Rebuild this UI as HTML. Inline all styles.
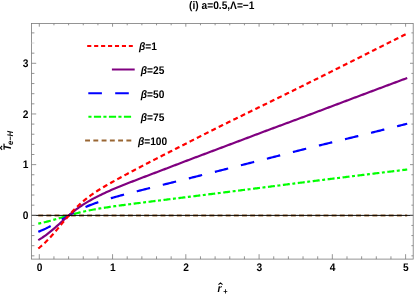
<!DOCTYPE html>
<html><head><meta charset="utf-8"><style>
html,body{margin:0;padding:0;background:#fff;}
body{width:415px;height:294px;overflow:hidden;}
svg{display:block;}
text{font-family:"Liberation Sans",sans-serif;font-weight:bold;fill:#000;text-rendering:geometricPrecision;}
svg{filter:opacity(1);will-change:transform;}
</style></head><body>
<svg width="415" height="294" viewBox="0 0 415 294">
<rect width="415" height="294" fill="#fff"/>

<g fill="none" stroke-linecap="butt" stroke-linejoin="round">
<path d="M38.27,215.45 L39.51,215.45 L40.74,215.45 L41.98,215.45 L43.21,215.45 L44.44,215.45 L45.68,215.45 L46.91,215.45 L48.15,215.45 L49.38,215.45 L50.61,215.45 L51.85,215.45 L53.08,215.45 L54.32,215.45 L55.55,215.45 L56.78,215.45 L58.02,215.45 L59.25,215.45 L60.48,215.45 L61.72,215.45 L62.95,215.45 L64.19,215.45 L65.42,215.45 L66.65,215.45 L67.89,215.45 L69.12,215.45 L70.36,215.45 L71.59,215.45 L72.82,215.45 L74.06,215.45 L75.29,215.45 L76.53,215.45 L77.76,215.45 L78.99,215.45 L80.23,215.45 L81.46,215.45 L82.69,215.45 L83.93,215.45 L85.16,215.45 L86.40,215.45 L87.63,215.45 L88.86,215.45 L90.10,215.45 L91.33,215.45 L92.57,215.45 L93.80,215.45 L95.03,215.45 L96.27,215.45 L97.50,215.45 L98.74,215.45 L99.97,215.45 L101.20,215.45 L102.44,215.45 L103.67,215.45 L104.91,215.45 L106.14,215.45 L107.37,215.45 L108.61,215.45 L109.84,215.45 L111.07,215.45 L112.31,215.45 L113.54,215.45 L114.78,215.45 L116.01,215.45 L117.24,215.45 L118.48,215.45 L119.71,215.45 L120.95,215.45 L122.18,215.45 L123.41,215.45 L124.65,215.45 L125.88,215.45 L127.12,215.45 L128.35,215.45 L129.58,215.45 L130.82,215.45 L132.05,215.45 L133.28,215.45 L134.52,215.45 L135.75,215.45 L136.99,215.45 L138.22,215.45 L139.45,215.45 L140.69,215.45 L141.92,215.45 L143.16,215.45 L144.39,215.45 L145.62,215.45 L146.86,215.45 L148.09,215.45 L149.33,215.45 L150.56,215.45 L151.79,215.45 L153.03,215.45 L154.26,215.45 L155.50,215.45 L156.73,215.45 L157.96,215.45 L159.20,215.45 L160.43,215.45 L161.66,215.45 L162.90,215.45 L164.13,215.45 L165.37,215.45 L166.60,215.45 L167.83,215.45 L169.07,215.45 L170.30,215.45 L171.54,215.45 L172.77,215.45 L174.00,215.45 L175.24,215.45 L176.47,215.45 L177.71,215.45 L178.94,215.45 L180.17,215.45 L181.41,215.45 L182.64,215.45 L183.88,215.45 L185.11,215.45 L186.34,215.45 L187.58,215.45 L188.81,215.45 L190.04,215.45 L191.28,215.45 L192.51,215.45 L193.75,215.45 L194.98,215.45 L196.21,215.45 L197.45,215.45 L198.68,215.45 L199.92,215.45 L201.15,215.45 L202.38,215.45 L203.62,215.45 L204.85,215.45 L206.09,215.45 L207.32,215.45 L208.55,215.45 L209.79,215.45 L211.02,215.45 L212.25,215.45 L213.49,215.45 L214.72,215.45 L215.96,215.45 L217.19,215.45 L218.42,215.45 L219.66,215.45 L220.89,215.45 L222.13,215.45 L223.36,215.45 L224.59,215.45 L225.83,215.45 L227.06,215.45 L228.30,215.45 L229.53,215.45 L230.76,215.45 L232.00,215.45 L233.23,215.45 L234.47,215.45 L235.70,215.45 L236.93,215.45 L238.17,215.45 L239.40,215.45 L240.63,215.45 L241.87,215.45 L243.10,215.45 L244.34,215.45 L245.57,215.45 L246.80,215.45 L248.04,215.45 L249.27,215.45 L250.51,215.45 L251.74,215.45 L252.97,215.45 L254.21,215.45 L255.44,215.45 L256.68,215.45 L257.91,215.45 L259.14,215.45 L260.38,215.45 L261.61,215.45 L262.84,215.45 L264.08,215.45 L265.31,215.45 L266.55,215.45 L267.78,215.45 L269.01,215.45 L270.25,215.45 L271.48,215.45 L272.72,215.45 L273.95,215.45 L275.18,215.45 L276.42,215.45 L277.65,215.45 L278.89,215.45 L280.12,215.45 L281.35,215.45 L282.59,215.45 L283.82,215.45 L285.06,215.45 L286.29,215.45 L287.52,215.45 L288.76,215.45 L289.99,215.45 L291.22,215.45 L292.46,215.45 L293.69,215.45 L294.93,215.45 L296.16,215.45 L297.39,215.45 L298.63,215.45 L299.86,215.45 L301.10,215.45 L302.33,215.45 L303.56,215.45 L304.80,215.45 L306.03,215.45 L307.27,215.45 L308.50,215.45 L309.73,215.45 L310.97,215.45 L312.20,215.45 L313.43,215.45 L314.67,215.45 L315.90,215.45 L317.14,215.45 L318.37,215.45 L319.60,215.45 L320.84,215.45 L322.07,215.45 L323.31,215.45 L324.54,215.45 L325.77,215.45 L327.01,215.45 L328.24,215.45 L329.48,215.45 L330.71,215.45 L331.94,215.45 L333.18,215.45 L334.41,215.45 L335.65,215.45 L336.88,215.45 L338.11,215.45 L339.35,215.45 L340.58,215.45 L341.81,215.45 L343.05,215.45 L344.28,215.45 L345.52,215.45 L346.75,215.45 L347.98,215.45 L349.22,215.45 L350.45,215.45 L351.69,215.45 L352.92,215.45 L354.15,215.45 L355.39,215.45 L356.62,215.45 L357.86,215.45 L359.09,215.45 L360.32,215.45 L361.56,215.45 L362.79,215.45 L364.03,215.45 L365.26,215.45 L366.49,215.45 L367.73,215.45 L368.96,215.45 L370.19,215.45 L371.43,215.45 L372.66,215.45 L373.90,215.45 L375.13,215.45 L376.36,215.45 L377.60,215.45 L378.83,215.45 L380.07,215.45 L381.30,215.45 L382.53,215.45 L383.77,215.45 L385.00,215.45 L386.24,215.45 L387.47,215.45 L388.70,215.45 L389.94,215.45 L391.17,215.45 L392.40,215.45 L393.64,215.45 L394.87,215.45 L396.11,215.45 L397.34,215.45 L398.57,215.45 L399.81,215.45 L401.04,215.45 L402.28,215.45 L403.51,215.45 L404.74,215.45 L405.98,215.45 L407.21,215.45" stroke="#996633" stroke-width="1.9" stroke-dasharray="4.9 3.25"/>
<path d="M38.27,223.57 L39.51,223.32 L40.74,223.07 L41.98,222.81 L43.21,222.54 L44.44,222.25 L45.68,221.96 L46.91,221.66 L48.15,221.34 L49.38,221.02 L50.61,220.69 L51.85,220.35 L53.08,220.00 L54.32,219.65 L55.55,219.29 L56.78,218.93 L58.02,218.56 L59.25,218.19 L60.48,217.82 L61.72,217.45 L62.95,217.08 L64.19,216.71 L65.42,216.34 L66.65,215.98 L67.89,215.62 L69.12,215.26 L70.36,214.91 L71.59,214.57 L72.82,214.23 L74.06,213.90 L75.29,213.57 L76.53,213.26 L77.76,212.95 L78.99,212.64 L80.23,212.35 L81.46,212.06 L82.69,211.77 L83.93,211.50 L85.16,211.23 L86.40,210.97 L87.63,210.71 L88.86,210.46 L90.10,210.22 L91.33,209.98 L92.57,209.75 L93.80,209.52 L95.03,209.30 L96.27,209.08 L97.50,208.87 L98.74,208.66 L99.97,208.45 L101.20,208.25 L102.44,208.05 L103.67,207.85 L104.91,207.66 L106.14,207.47 L107.37,207.29 L108.61,207.10 L109.84,206.92 L111.07,206.74 L112.31,206.56 L113.54,206.39 L114.78,206.21 L116.01,206.04 L117.24,205.87 L118.48,205.70 L119.71,205.53 L120.95,205.37 L122.18,205.20 L123.41,205.04 L124.65,204.87 L125.88,204.71 L127.12,204.55 L128.35,204.39 L129.58,204.23 L130.82,204.07 L132.05,203.91 L133.28,203.75 L134.52,203.59 L135.75,203.44 L136.99,203.28 L138.22,203.12 L139.45,202.97 L140.69,202.81 L141.92,202.66 L143.16,202.50 L144.39,202.35 L145.62,202.19 L146.86,202.04 L148.09,201.88 L149.33,201.73 L150.56,201.58 L151.79,201.42 L153.03,201.27 L154.26,201.12 L155.50,200.96 L156.73,200.81 L157.96,200.66 L159.20,200.50 L160.43,200.35 L161.66,200.20 L162.90,200.05 L164.13,199.89 L165.37,199.74 L166.60,199.59 L167.83,199.43 L169.07,199.28 L170.30,199.13 L171.54,198.98 L172.77,198.82 L174.00,198.67 L175.24,198.52 L176.47,198.36 L177.71,198.21 L178.94,198.06 L180.17,197.90 L181.41,197.75 L182.64,197.60 L183.88,197.45 L185.11,197.29 L186.34,197.14 L187.58,196.99 L188.81,196.83 L190.04,196.68 L191.28,196.53 L192.51,196.37 L193.75,196.22 L194.98,196.06 L196.21,195.91 L197.45,195.76 L198.68,195.60 L199.92,195.45 L201.15,195.29 L202.38,195.14 L203.62,194.99 L204.85,194.83 L206.09,194.68 L207.32,194.52 L208.55,194.37 L209.79,194.21 L211.02,194.06 L212.25,193.91 L213.49,193.75 L214.72,193.60 L215.96,193.44 L217.19,193.29 L218.42,193.13 L219.66,192.98 L220.89,192.82 L222.13,192.67 L223.36,192.51 L224.59,192.36 L225.83,192.20 L227.06,192.04 L228.30,191.89 L229.53,191.73 L230.76,191.58 L232.00,191.42 L233.23,191.27 L234.47,191.11 L235.70,190.95 L236.93,190.80 L238.17,190.64 L239.40,190.49 L240.63,190.33 L241.87,190.17 L243.10,190.02 L244.34,189.86 L245.57,189.71 L246.80,189.55 L248.04,189.39 L249.27,189.24 L250.51,189.08 L251.74,188.92 L252.97,188.77 L254.21,188.61 L255.44,188.45 L256.68,188.30 L257.91,188.14 L259.14,187.98 L260.38,187.83 L261.61,187.67 L262.84,187.51 L264.08,187.36 L265.31,187.20 L266.55,187.04 L267.78,186.88 L269.01,186.73 L270.25,186.57 L271.48,186.41 L272.72,186.25 L273.95,186.10 L275.18,185.94 L276.42,185.78 L277.65,185.62 L278.89,185.47 L280.12,185.31 L281.35,185.15 L282.59,184.99 L283.82,184.84 L285.06,184.68 L286.29,184.52 L287.52,184.36 L288.76,184.20 L289.99,184.05 L291.22,183.89 L292.46,183.73 L293.69,183.57 L294.93,183.41 L296.16,183.26 L297.39,183.10 L298.63,182.94 L299.86,182.78 L301.10,182.63 L302.33,182.47 L303.56,182.31 L304.80,182.15 L306.03,182.00 L307.27,181.84 L308.50,181.68 L309.73,181.53 L310.97,181.37 L312.20,181.22 L313.43,181.06 L314.67,180.91 L315.90,180.75 L317.14,180.60 L318.37,180.44 L319.60,180.29 L320.84,180.13 L322.07,179.98 L323.31,179.82 L324.54,179.67 L325.77,179.52 L327.01,179.36 L328.24,179.21 L329.48,179.05 L330.71,178.90 L331.94,178.75 L333.18,178.59 L334.41,178.44 L335.65,178.29 L336.88,178.14 L338.11,177.98 L339.35,177.83 L340.58,177.68 L341.81,177.52 L343.05,177.37 L344.28,177.22 L345.52,177.07 L346.75,176.92 L347.98,176.76 L349.22,176.61 L350.45,176.46 L351.69,176.31 L352.92,176.16 L354.15,176.00 L355.39,175.85 L356.62,175.70 L357.86,175.55 L359.09,175.40 L360.32,175.25 L361.56,175.10 L362.79,174.95 L364.03,174.79 L365.26,174.64 L366.49,174.49 L367.73,174.34 L368.96,174.19 L370.19,174.04 L371.43,173.89 L372.66,173.74 L373.90,173.59 L375.13,173.44 L376.36,173.28 L377.60,173.13 L378.83,172.98 L380.07,172.83 L381.30,172.68 L382.53,172.53 L383.77,172.38 L385.00,172.23 L386.24,172.08 L387.47,171.93 L388.70,171.78 L389.94,171.62 L391.17,171.47 L392.40,171.32 L393.64,171.17 L394.87,171.02 L396.11,170.87 L397.34,170.72 L398.57,170.57 L399.81,170.41 L401.04,170.26 L402.28,170.11 L403.51,169.96 L404.74,169.81 L405.98,169.66 L407.21,169.51" stroke="#00ff00" stroke-width="2.2" stroke-dasharray="3.0 2.6 7.2 2.7 3.0 2.6 7.2 2.7 3.0 2.6 7.2 2.7 3.0 2.6 7.2 2.7 2.95 2.55 7.0 2.54 2.95 2.55 7.0 2.54 2.95 2.55 7.0 2.54 2.95 2.55 7.0 2.54 2.95 2.55 7.0 2.54 2.95 2.55 7.0 2.54 2.95 2.55 7.0 2.54 2.95 2.55 7.0 2.54 2.95 2.55 7.0 2.54 2.95 2.55 7.0 2.54 2.95 2.55 7.0 2.54 2.95 2.55 7.0 2.54 2.95 2.55 7.0 2.54 2.95 2.55 7.0 2.54 2.95 2.55 7.0 2.54 2.95 2.55 7.0 2.54 2.95 2.55 7.0 2.54 2.95 2.55 7.0 2.54 2.95 2.55 7.0 2.54 2.95 2.55 7.0 2.54 2.95 2.55 7.0 2.54 2.95 2.55 7.0 2.54 2.95 2.55 7.0 2.54 2.95 2.55 7.0 2.54"/>
<path d="M38.27,231.83 L39.51,231.35 L40.74,230.85 L41.98,230.32 L43.21,229.78 L44.44,229.21 L45.68,228.62 L46.91,228.02 L48.15,227.39 L49.38,226.74 L50.61,226.08 L51.85,225.40 L53.08,224.71 L54.32,224.00 L55.55,223.28 L56.78,222.55 L58.02,221.82 L59.25,221.08 L60.48,220.34 L61.72,219.60 L62.95,218.85 L64.19,218.12 L65.42,217.38 L66.65,216.65 L67.89,215.93 L69.12,215.22 L70.36,214.52 L71.59,213.84 L72.82,213.16 L74.06,212.50 L75.29,211.85 L76.53,211.21 L77.76,210.59 L78.99,209.98 L80.23,209.39 L81.46,208.81 L82.69,208.25 L83.93,207.70 L85.16,207.16 L86.40,206.64 L87.63,206.12 L88.86,205.63 L90.10,205.14 L91.33,204.66 L92.57,204.20 L93.80,203.74 L95.03,203.29 L96.27,202.86 L97.50,202.43 L98.74,202.01 L99.97,201.60 L101.20,201.20 L102.44,200.80 L103.67,200.41 L104.91,200.02 L106.14,199.64 L107.37,199.27 L108.61,198.90 L109.84,198.54 L111.07,198.18 L112.31,197.82 L113.54,197.47 L114.78,197.12 L116.01,196.78 L117.24,196.44 L118.48,196.10 L119.71,195.76 L120.95,195.43 L122.18,195.10 L123.41,194.77 L124.65,194.44 L125.88,194.12 L127.12,193.80 L128.35,193.47 L129.58,193.15 L130.82,192.84 L132.05,192.52 L133.28,192.20 L134.52,191.89 L135.75,191.57 L136.99,191.26 L138.22,190.95 L139.45,190.63 L140.69,190.32 L141.92,190.01 L143.16,189.70 L144.39,189.39 L145.62,189.08 L146.86,188.78 L148.09,188.47 L149.33,188.16 L150.56,187.85 L151.79,187.55 L153.03,187.24 L154.26,186.93 L155.50,186.63 L156.73,186.32 L157.96,186.01 L159.20,185.71 L160.43,185.40 L161.66,185.10 L162.90,184.79 L164.13,184.49 L165.37,184.18 L166.60,183.87 L167.83,183.57 L169.07,183.26 L170.30,182.96 L171.54,182.65 L172.77,182.35 L174.00,182.04 L175.24,181.73 L176.47,181.43 L177.71,181.12 L178.94,180.82 L180.17,180.51 L181.41,180.20 L182.64,179.90 L183.88,179.59 L185.11,179.28 L186.34,178.98 L187.58,178.67 L188.81,178.36 L190.04,178.06 L191.28,177.75 L192.51,177.44 L193.75,177.14 L194.98,176.83 L196.21,176.52 L197.45,176.21 L198.68,175.91 L199.92,175.60 L201.15,175.29 L202.38,174.98 L203.62,174.67 L204.85,174.36 L206.09,174.06 L207.32,173.75 L208.55,173.44 L209.79,173.13 L211.02,172.82 L212.25,172.51 L213.49,172.20 L214.72,171.89 L215.96,171.58 L217.19,171.27 L218.42,170.96 L219.66,170.65 L220.89,170.34 L222.13,170.03 L223.36,169.72 L224.59,169.41 L225.83,169.10 L227.06,168.79 L228.30,168.48 L229.53,168.17 L230.76,167.86 L232.00,167.54 L233.23,167.23 L234.47,166.92 L235.70,166.61 L236.93,166.30 L238.17,165.99 L239.40,165.67 L240.63,165.36 L241.87,165.05 L243.10,164.74 L244.34,164.42 L245.57,164.11 L246.80,163.80 L248.04,163.49 L249.27,163.17 L250.51,162.86 L251.74,162.55 L252.97,162.23 L254.21,161.92 L255.44,161.61 L256.68,161.29 L257.91,160.98 L259.14,160.67 L260.38,160.35 L261.61,160.04 L262.84,159.72 L264.08,159.41 L265.31,159.10 L266.55,158.78 L267.78,158.47 L269.01,158.15 L270.25,157.84 L271.48,157.52 L272.72,157.21 L273.95,156.89 L275.18,156.58 L276.42,156.26 L277.65,155.95 L278.89,155.63 L280.12,155.32 L281.35,155.00 L282.59,154.69 L283.82,154.37 L285.06,154.06 L286.29,153.74 L287.52,153.42 L288.76,153.11 L289.99,152.79 L291.22,152.48 L292.46,152.16 L293.69,151.84 L294.93,151.53 L296.16,151.21 L297.39,150.90 L298.63,150.58 L299.86,150.27 L301.10,149.96 L302.33,149.64 L303.56,149.33 L304.80,149.02 L306.03,148.72 L307.27,148.41 L308.50,148.10 L309.73,147.79 L310.97,147.49 L312.20,147.18 L313.43,146.88 L314.67,146.57 L315.90,146.27 L317.14,145.97 L318.37,145.67 L319.60,145.36 L320.84,145.06 L322.07,144.76 L323.31,144.46 L324.54,144.16 L325.77,143.86 L327.01,143.56 L328.24,143.26 L329.48,142.97 L330.71,142.67 L331.94,142.37 L333.18,142.07 L334.41,141.77 L335.65,141.47 L336.88,141.18 L338.11,140.88 L339.35,140.58 L340.58,140.28 L341.81,139.98 L343.05,139.69 L344.28,139.39 L345.52,139.09 L346.75,138.79 L347.98,138.49 L349.22,138.19 L350.45,137.89 L351.69,137.59 L352.92,137.29 L354.15,136.99 L355.39,136.69 L356.62,136.39 L357.86,136.09 L359.09,135.79 L360.32,135.48 L361.56,135.18 L362.79,134.87 L364.03,134.57 L365.26,134.26 L366.49,133.96 L367.73,133.65 L368.96,133.34 L370.19,133.04 L371.43,132.73 L372.66,132.42 L373.90,132.11 L375.13,131.80 L376.36,131.49 L377.60,131.18 L378.83,130.87 L380.07,130.56 L381.30,130.25 L382.53,129.94 L383.77,129.63 L385.00,129.32 L386.24,129.01 L387.47,128.70 L388.70,128.39 L389.94,128.08 L391.17,127.77 L392.40,127.46 L393.64,127.15 L394.87,126.84 L396.11,126.53 L397.34,126.22 L398.57,125.90 L399.81,125.59 L401.04,125.28 L402.28,124.97 L403.51,124.66 L404.74,124.34 L405.98,124.03 L407.21,123.72" stroke="#0000ff" stroke-width="2.2" stroke-dasharray="13.7 12.9 13.7 13.13 13.7 13.13 13.7 13.13 13.7 13.13 13.7 13.13 13.7 13.13 13.7 13.13 13.7 13.13 13.7 13.13 13.7 13.13 13.7 13.13 13.7 13.13 13.7 13.13 13.7 13.13 13.7 13.13 13.7 13.13"/>
<path d="M38.27,240.10 L39.51,239.38 L40.74,238.62 L41.98,237.84 L43.21,237.02 L44.44,236.17 L45.68,235.29 L46.91,234.38 L48.15,233.43 L49.38,232.47 L50.61,231.47 L51.85,230.45 L53.08,229.41 L54.32,228.35 L55.55,227.27 L56.78,226.18 L58.02,225.08 L59.25,223.97 L60.48,222.86 L61.72,221.74 L62.95,220.63 L64.19,219.52 L65.42,218.42 L66.65,217.33 L67.89,216.25 L69.12,215.19 L70.36,214.14 L71.59,213.11 L72.82,212.11 L74.06,211.13 L75.29,210.17 L76.53,209.24 L77.76,208.33 L78.99,207.44 L80.23,206.58 L81.46,205.74 L82.69,204.92 L83.93,204.13 L85.16,203.35 L86.40,202.59 L87.63,201.85 L88.86,201.13 L90.10,200.43 L91.33,199.74 L92.57,199.07 L93.80,198.40 L95.03,197.75 L96.27,197.11 L97.50,196.48 L98.74,195.86 L99.97,195.25 L101.20,194.64 L102.44,194.04 L103.67,193.46 L104.91,192.88 L106.14,192.31 L107.37,191.75 L108.61,191.20 L109.84,190.65 L111.07,190.11 L112.31,189.58 L113.54,189.05 L114.78,188.53 L116.01,188.02 L117.24,187.50 L118.48,187.00 L119.71,186.49 L120.95,185.99 L122.18,185.50 L123.41,185.00 L124.65,184.51 L125.88,184.02 L127.12,183.54 L128.35,183.06 L129.58,182.58 L130.82,182.09 L132.05,181.62 L133.28,181.14 L134.52,180.66 L135.75,180.18 L136.99,179.71 L138.22,179.23 L139.45,178.76 L140.69,178.28 L141.92,177.81 L143.16,177.34 L144.39,176.86 L145.62,176.39 L146.86,175.92 L148.09,175.45 L149.33,174.99 L150.56,174.52 L151.79,174.05 L153.03,173.58 L154.26,173.11 L155.50,172.64 L156.73,172.17 L157.96,171.70 L159.20,171.23 L160.43,170.76 L161.66,170.29 L162.90,169.82 L164.13,169.35 L165.37,168.88 L166.60,168.41 L167.83,167.93 L169.07,167.46 L170.30,166.99 L171.54,166.52 L172.77,166.05 L174.00,165.58 L175.24,165.10 L176.47,164.63 L177.71,164.16 L178.94,163.69 L180.17,163.22 L181.41,162.75 L182.64,162.28 L183.88,161.81 L185.11,161.34 L186.34,160.87 L187.58,160.40 L188.81,159.93 L190.04,159.46 L191.28,158.99 L192.51,158.53 L193.75,158.06 L194.98,157.59 L196.21,157.13 L197.45,156.66 L198.68,156.20 L199.92,155.74 L201.15,155.28 L202.38,154.81 L203.62,154.35 L204.85,153.89 L206.09,153.43 L207.32,152.96 L208.55,152.50 L209.79,152.04 L211.02,151.57 L212.25,151.11 L213.49,150.65 L214.72,150.19 L215.96,149.72 L217.19,149.26 L218.42,148.79 L219.66,148.33 L220.89,147.87 L222.13,147.40 L223.36,146.94 L224.59,146.48 L225.83,146.01 L227.06,145.55 L228.30,145.08 L229.53,144.62 L230.76,144.15 L232.00,143.69 L233.23,143.22 L234.47,142.76 L235.70,142.29 L236.93,141.83 L238.17,141.36 L239.40,140.90 L240.63,140.43 L241.87,139.97 L243.10,139.50 L244.34,139.04 L245.57,138.57 L246.80,138.10 L248.04,137.64 L249.27,137.17 L250.51,136.71 L251.74,136.24 L252.97,135.77 L254.21,135.31 L255.44,134.84 L256.68,134.37 L257.91,133.91 L259.14,133.44 L260.38,132.97 L261.61,132.51 L262.84,132.04 L264.08,131.58 L265.31,131.12 L266.55,130.65 L267.78,130.19 L269.01,129.73 L270.25,129.27 L271.48,128.81 L272.72,128.36 L273.95,127.90 L275.18,127.44 L276.42,126.98 L277.65,126.52 L278.89,126.07 L280.12,125.61 L281.35,125.16 L282.59,124.70 L283.82,124.24 L285.06,123.79 L286.29,123.33 L287.52,122.87 L288.76,122.42 L289.99,121.96 L291.22,121.50 L292.46,121.05 L293.69,120.59 L294.93,120.13 L296.16,119.67 L297.39,119.21 L298.63,118.76 L299.86,118.30 L301.10,117.83 L302.33,117.37 L303.56,116.91 L304.80,116.45 L306.03,115.99 L307.27,115.52 L308.50,115.06 L309.73,114.60 L310.97,114.13 L312.20,113.67 L313.43,113.20 L314.67,112.74 L315.90,112.27 L317.14,111.81 L318.37,111.34 L319.60,110.88 L320.84,110.41 L322.07,109.95 L323.31,109.48 L324.54,109.02 L325.77,108.55 L327.01,108.09 L328.24,107.62 L329.48,107.15 L330.71,106.69 L331.94,106.22 L333.18,105.76 L334.41,105.29 L335.65,104.82 L336.88,104.36 L338.11,103.89 L339.35,103.43 L340.58,102.96 L341.81,102.49 L343.05,102.03 L344.28,101.56 L345.52,101.10 L346.75,100.63 L347.98,100.17 L349.22,99.70 L350.45,99.24 L351.69,98.77 L352.92,98.31 L354.15,97.84 L355.39,97.38 L356.62,96.92 L357.86,96.45 L359.09,95.99 L360.32,95.53 L361.56,95.06 L362.79,94.60 L364.03,94.14 L365.26,93.67 L366.49,93.21 L367.73,92.75 L368.96,92.29 L370.19,91.82 L371.43,91.36 L372.66,90.90 L373.90,90.44 L375.13,89.97 L376.36,89.51 L377.60,89.05 L378.83,88.59 L380.07,88.13 L381.30,87.67 L382.53,87.21 L383.77,86.74 L385.00,86.28 L386.24,85.82 L387.47,85.36 L388.70,84.90 L389.94,84.44 L391.17,83.98 L392.40,83.52 L393.64,83.06 L394.87,82.60 L396.11,82.14 L397.34,81.68 L398.57,81.22 L399.81,80.76 L401.04,80.30 L402.28,79.84 L403.51,79.38 L404.74,78.92 L405.98,78.46 L407.21,78.00" stroke="#800080" stroke-width="2.2"/>
<path d="M38.27,248.50 L39.51,247.52 L40.74,246.50 L41.98,245.45 L43.21,244.35 L44.44,243.21 L45.68,242.03 L46.91,240.80 L48.15,239.54 L49.38,238.25 L50.61,236.92 L51.85,235.55 L53.08,234.16 L54.32,232.74 L55.55,231.30 L56.78,229.84 L58.02,228.36 L59.25,226.86 L60.48,225.37 L61.72,223.87 L62.95,222.38 L64.19,220.89 L65.42,219.43 L66.65,217.98 L67.89,216.55 L69.12,215.15 L70.36,213.78 L71.59,212.44 L72.82,211.12 L74.06,209.84 L75.29,208.58 L76.53,207.36 L77.76,206.17 L78.99,205.01 L80.23,203.87 L81.46,202.77 L82.69,201.70 L83.93,200.66 L85.16,199.65 L86.40,198.66 L87.63,197.70 L88.86,196.76 L90.10,195.85 L91.33,194.96 L92.57,194.09 L93.80,193.24 L95.03,192.40 L96.27,191.59 L97.50,190.79 L98.74,190.01 L99.97,189.24 L101.20,188.48 L102.44,187.73 L103.67,186.99 L104.91,186.27 L106.14,185.55 L107.37,184.84 L108.61,184.13 L109.84,183.43 L111.07,182.73 L112.31,182.04 L113.54,181.35 L114.78,180.66 L116.01,179.98 L117.24,179.30 L118.48,178.62 L119.71,177.95 L120.95,177.28 L122.18,176.61 L123.41,175.94 L124.65,175.28 L125.88,174.62 L127.12,173.95 L128.35,173.29 L129.58,172.63 L130.82,171.98 L132.05,171.32 L133.28,170.67 L134.52,170.01 L135.75,169.36 L136.99,168.71 L138.22,168.06 L139.45,167.41 L140.69,166.76 L141.92,166.12 L143.16,165.47 L144.39,164.83 L145.62,164.19 L146.86,163.55 L148.09,162.91 L149.33,162.27 L150.56,161.63 L151.79,161.00 L153.03,160.37 L154.26,159.74 L155.50,159.11 L156.73,158.48 L157.96,157.86 L159.20,157.23 L160.43,156.61 L161.66,155.98 L162.90,155.35 L164.13,154.72 L165.37,154.10 L166.60,153.47 L167.83,152.84 L169.07,152.21 L170.30,151.58 L171.54,150.95 L172.77,150.33 L174.00,149.70 L175.24,149.07 L176.47,148.44 L177.71,147.81 L178.94,147.18 L180.17,146.55 L181.41,145.92 L182.64,145.29 L183.88,144.66 L185.11,144.03 L186.34,143.40 L187.58,142.77 L188.81,142.14 L190.04,141.51 L191.28,140.88 L192.51,140.25 L193.75,139.62 L194.98,139.00 L196.21,138.37 L197.45,137.74 L198.68,137.11 L199.92,136.49 L201.15,135.86 L202.38,135.24 L203.62,134.61 L204.85,133.99 L206.09,133.37 L207.32,132.74 L208.55,132.12 L209.79,131.50 L211.02,130.88 L212.25,130.27 L213.49,129.65 L214.72,129.03 L215.96,128.42 L217.19,127.80 L218.42,127.19 L219.66,126.58 L220.89,125.97 L222.13,125.36 L223.36,124.75 L224.59,124.14 L225.83,123.53 L227.06,122.92 L228.30,122.32 L229.53,121.71 L230.76,121.11 L232.00,120.50 L233.23,119.90 L234.47,119.29 L235.70,118.69 L236.93,118.08 L238.17,117.48 L239.40,116.87 L240.63,116.27 L241.87,115.67 L243.10,115.07 L244.34,114.46 L245.57,113.86 L246.80,113.26 L248.04,112.66 L249.27,112.05 L250.51,111.45 L251.74,110.85 L252.97,110.25 L254.21,109.64 L255.44,109.04 L256.68,108.44 L257.91,107.84 L259.14,107.24 L260.38,106.63 L261.61,106.03 L262.84,105.43 L264.08,104.83 L265.31,104.23 L266.55,103.62 L267.78,103.02 L269.01,102.42 L270.25,101.81 L271.48,101.21 L272.72,100.61 L273.95,100.00 L275.18,99.40 L276.42,98.79 L277.65,98.19 L278.89,97.58 L280.12,96.98 L281.35,96.37 L282.59,95.77 L283.82,95.16 L285.06,94.55 L286.29,93.94 L287.52,93.34 L288.76,92.73 L289.99,92.12 L291.22,91.51 L292.46,90.90 L293.69,90.29 L294.93,89.68 L296.16,89.06 L297.39,88.45 L298.63,87.84 L299.86,87.23 L301.10,86.61 L302.33,86.00 L303.56,85.39 L304.80,84.78 L306.03,84.16 L307.27,83.55 L308.50,82.94 L309.73,82.32 L310.97,81.71 L312.20,81.09 L313.43,80.48 L314.67,79.87 L315.90,79.25 L317.14,78.64 L318.37,78.02 L319.60,77.41 L320.84,76.79 L322.07,76.18 L323.31,75.56 L324.54,74.95 L325.77,74.33 L327.01,73.71 L328.24,73.10 L329.48,72.48 L330.71,71.87 L331.94,71.25 L333.18,70.63 L334.41,70.02 L335.65,69.40 L336.88,68.78 L338.11,68.17 L339.35,67.55 L340.58,66.93 L341.81,66.31 L343.05,65.70 L344.28,65.08 L345.52,64.46 L346.75,63.84 L347.98,63.23 L349.22,62.61 L350.45,61.99 L351.69,61.37 L352.92,60.75 L354.15,60.13 L355.39,59.51 L356.62,58.90 L357.86,58.28 L359.09,57.66 L360.32,57.04 L361.56,56.42 L362.79,55.80 L364.03,55.18 L365.26,54.56 L366.49,53.94 L367.73,53.32 L368.96,52.70 L370.19,52.08 L371.43,51.46 L372.66,50.84 L373.90,50.22 L375.13,49.60 L376.36,48.98 L377.60,48.35 L378.83,47.73 L380.07,47.11 L381.30,46.49 L382.53,45.87 L383.77,45.25 L385.00,44.63 L386.24,44.00 L387.47,43.38 L388.70,42.76 L389.94,42.14 L391.17,41.52 L392.40,40.89 L393.64,40.27 L394.87,39.65 L396.11,39.02 L397.34,38.40 L398.57,37.78 L399.81,37.16 L401.04,36.53 L402.28,35.91 L403.51,35.28 L404.74,34.66 L405.98,34.04 L407.21,33.41" stroke="#ff0000" stroke-width="2.2" stroke-dasharray="4.9 3.25"/>
</g>
<line x1="31.5" y1="215.4" x2="413.2" y2="215.4" stroke="#000" stroke-width="0.95"/>
<g stroke="#7a7a7a" stroke-width="0.8" fill="none">
<rect x="31.5" y="23.5" width="381.7" height="235.60000000000002"/>
<line x1="39.30" y1="259.1" x2="39.30" y2="254.20"/>
<line x1="39.30" y1="23.5" x2="39.30" y2="26.70"/>
<line x1="53.95" y1="259.1" x2="53.95" y2="256.30"/>
<line x1="53.95" y1="23.5" x2="53.95" y2="25.30"/>
<line x1="68.60" y1="259.1" x2="68.60" y2="256.30"/>
<line x1="68.60" y1="23.5" x2="68.60" y2="25.30"/>
<line x1="83.26" y1="259.1" x2="83.26" y2="256.30"/>
<line x1="83.26" y1="23.5" x2="83.26" y2="25.30"/>
<line x1="97.91" y1="259.1" x2="97.91" y2="256.30"/>
<line x1="97.91" y1="23.5" x2="97.91" y2="25.30"/>
<line x1="112.56" y1="259.1" x2="112.56" y2="254.20"/>
<line x1="112.56" y1="23.5" x2="112.56" y2="26.70"/>
<line x1="127.21" y1="259.1" x2="127.21" y2="256.30"/>
<line x1="127.21" y1="23.5" x2="127.21" y2="25.30"/>
<line x1="141.86" y1="259.1" x2="141.86" y2="256.30"/>
<line x1="141.86" y1="23.5" x2="141.86" y2="25.30"/>
<line x1="156.52" y1="259.1" x2="156.52" y2="256.30"/>
<line x1="156.52" y1="23.5" x2="156.52" y2="25.30"/>
<line x1="171.17" y1="259.1" x2="171.17" y2="256.30"/>
<line x1="171.17" y1="23.5" x2="171.17" y2="25.30"/>
<line x1="185.82" y1="259.1" x2="185.82" y2="254.20"/>
<line x1="185.82" y1="23.5" x2="185.82" y2="26.70"/>
<line x1="200.47" y1="259.1" x2="200.47" y2="256.30"/>
<line x1="200.47" y1="23.5" x2="200.47" y2="25.30"/>
<line x1="215.12" y1="259.1" x2="215.12" y2="256.30"/>
<line x1="215.12" y1="23.5" x2="215.12" y2="25.30"/>
<line x1="229.78" y1="259.1" x2="229.78" y2="256.30"/>
<line x1="229.78" y1="23.5" x2="229.78" y2="25.30"/>
<line x1="244.43" y1="259.1" x2="244.43" y2="256.30"/>
<line x1="244.43" y1="23.5" x2="244.43" y2="25.30"/>
<line x1="259.08" y1="259.1" x2="259.08" y2="254.20"/>
<line x1="259.08" y1="23.5" x2="259.08" y2="26.70"/>
<line x1="273.73" y1="259.1" x2="273.73" y2="256.30"/>
<line x1="273.73" y1="23.5" x2="273.73" y2="25.30"/>
<line x1="288.38" y1="259.1" x2="288.38" y2="256.30"/>
<line x1="288.38" y1="23.5" x2="288.38" y2="25.30"/>
<line x1="303.04" y1="259.1" x2="303.04" y2="256.30"/>
<line x1="303.04" y1="23.5" x2="303.04" y2="25.30"/>
<line x1="317.69" y1="259.1" x2="317.69" y2="256.30"/>
<line x1="317.69" y1="23.5" x2="317.69" y2="25.30"/>
<line x1="332.34" y1="259.1" x2="332.34" y2="254.20"/>
<line x1="332.34" y1="23.5" x2="332.34" y2="26.70"/>
<line x1="346.99" y1="259.1" x2="346.99" y2="256.30"/>
<line x1="346.99" y1="23.5" x2="346.99" y2="25.30"/>
<line x1="361.64" y1="259.1" x2="361.64" y2="256.30"/>
<line x1="361.64" y1="23.5" x2="361.64" y2="25.30"/>
<line x1="376.30" y1="259.1" x2="376.30" y2="256.30"/>
<line x1="376.30" y1="23.5" x2="376.30" y2="25.30"/>
<line x1="390.95" y1="259.1" x2="390.95" y2="256.30"/>
<line x1="390.95" y1="23.5" x2="390.95" y2="25.30"/>
<line x1="405.60" y1="259.1" x2="405.60" y2="254.20"/>
<line x1="405.60" y1="23.5" x2="405.60" y2="26.70"/>
<line x1="31.5" y1="255.84" x2="34.40" y2="255.84"/>
<line x1="413.2" y1="255.84" x2="411.40" y2="255.84"/>
<line x1="31.5" y1="245.70" x2="34.40" y2="245.70"/>
<line x1="413.2" y1="245.70" x2="411.40" y2="245.70"/>
<line x1="31.5" y1="235.57" x2="34.40" y2="235.57"/>
<line x1="413.2" y1="235.57" x2="411.40" y2="235.57"/>
<line x1="31.5" y1="225.43" x2="34.40" y2="225.43"/>
<line x1="413.2" y1="225.43" x2="411.40" y2="225.43"/>
<line x1="31.5" y1="215.30" x2="36.20" y2="215.30"/>
<line x1="413.2" y1="215.30" x2="410.00" y2="215.30"/>
<line x1="31.5" y1="205.17" x2="34.40" y2="205.17"/>
<line x1="413.2" y1="205.17" x2="411.40" y2="205.17"/>
<line x1="31.5" y1="195.03" x2="34.40" y2="195.03"/>
<line x1="413.2" y1="195.03" x2="411.40" y2="195.03"/>
<line x1="31.5" y1="184.90" x2="34.40" y2="184.90"/>
<line x1="413.2" y1="184.90" x2="411.40" y2="184.90"/>
<line x1="31.5" y1="174.76" x2="34.40" y2="174.76"/>
<line x1="413.2" y1="174.76" x2="411.40" y2="174.76"/>
<line x1="31.5" y1="164.63" x2="36.20" y2="164.63"/>
<line x1="413.2" y1="164.63" x2="410.00" y2="164.63"/>
<line x1="31.5" y1="154.50" x2="34.40" y2="154.50"/>
<line x1="413.2" y1="154.50" x2="411.40" y2="154.50"/>
<line x1="31.5" y1="144.36" x2="34.40" y2="144.36"/>
<line x1="413.2" y1="144.36" x2="411.40" y2="144.36"/>
<line x1="31.5" y1="134.23" x2="34.40" y2="134.23"/>
<line x1="413.2" y1="134.23" x2="411.40" y2="134.23"/>
<line x1="31.5" y1="124.09" x2="34.40" y2="124.09"/>
<line x1="413.2" y1="124.09" x2="411.40" y2="124.09"/>
<line x1="31.5" y1="113.96" x2="36.20" y2="113.96"/>
<line x1="413.2" y1="113.96" x2="410.00" y2="113.96"/>
<line x1="31.5" y1="103.83" x2="34.40" y2="103.83"/>
<line x1="413.2" y1="103.83" x2="411.40" y2="103.83"/>
<line x1="31.5" y1="93.69" x2="34.40" y2="93.69"/>
<line x1="413.2" y1="93.69" x2="411.40" y2="93.69"/>
<line x1="31.5" y1="83.56" x2="34.40" y2="83.56"/>
<line x1="413.2" y1="83.56" x2="411.40" y2="83.56"/>
<line x1="31.5" y1="73.42" x2="34.40" y2="73.42"/>
<line x1="413.2" y1="73.42" x2="411.40" y2="73.42"/>
<line x1="31.5" y1="63.29" x2="36.20" y2="63.29"/>
<line x1="413.2" y1="63.29" x2="410.00" y2="63.29"/>
<line x1="31.5" y1="53.16" x2="34.40" y2="53.16"/>
<line x1="413.2" y1="53.16" x2="411.40" y2="53.16"/>
<line x1="31.5" y1="43.02" x2="34.40" y2="43.02" stroke="#cfcfcf"/>
<line x1="413.2" y1="43.02" x2="411.40" y2="43.02"/>
<line x1="31.5" y1="32.89" x2="34.40" y2="32.89"/>
<line x1="413.2" y1="32.89" x2="411.40" y2="32.89"/>
</g>
<text transform="translate(39.50,270.50) scale(1.02,1.1)" font-size="10" text-anchor="middle">0</text>
<text transform="translate(112.76,270.50) scale(1.02,1.1)" font-size="10" text-anchor="middle">1</text>
<text transform="translate(186.02,270.50) scale(1.02,1.1)" font-size="10" text-anchor="middle">2</text>
<text transform="translate(259.28,270.50) scale(1.02,1.1)" font-size="10" text-anchor="middle">3</text>
<text transform="translate(332.54,270.50) scale(1.02,1.1)" font-size="10" text-anchor="middle">4</text>
<text transform="translate(405.80,270.50) scale(1.02,1.1)" font-size="10" text-anchor="middle">5</text>
<text transform="translate(28.40,219.00) scale(1.02,1.1)" font-size="10" text-anchor="end">0</text>
<text transform="translate(28.40,168.33) scale(1.02,1.1)" font-size="10" text-anchor="end">1</text>
<text transform="translate(28.40,117.66) scale(1.02,1.1)" font-size="10" text-anchor="end">2</text>
<text transform="translate(28.40,66.99) scale(1.02,1.1)" font-size="10" text-anchor="end">3</text>
<text transform="translate(189.10,8.50) scale(1.02,1.1)" font-size="10" textLength="64.12" lengthAdjust="spacing">(i) a=0.5,Λ=−1</text>
<text transform="translate(217.50,291.60) scale(1.02,1.1)" font-size="10" font-style="italic">r</text>
<path d="M218.5,284.6 L220.5,282.9 L222.5,284.6" stroke="#000" stroke-width="1.15" fill="none"/>
<text transform="translate(223.35,293.60) scale(1.02,1.1)" font-size="7.3">+</text>
<g transform="translate(10.6,150.6) rotate(-90)">
<text transform="translate(0.00,0.00) scale(1.02,1.1)" font-size="10" font-style="italic">T</text>
<path d="M0.8,-8.5 L2.8,-10.2 L4.8,-8.5" stroke="#000" stroke-width="1.15" fill="none"/>
<text transform="translate(5.50,2.60) scale(1.02,1.1)" font-size="7.5" font-style="italic">e−H</text>
</g>
<g fill="none">
<line x1="87.2" y1="46" x2="132.8" y2="46" stroke="#ff0000" stroke-width="2" stroke-dasharray="4.1 2.84"/>
<line x1="111.9" y1="69.5" x2="134.7" y2="69.5" stroke="#800080" stroke-width="2"/>
<line x1="88.3" y1="93.3" x2="128.8" y2="93.3" stroke="#0000ff" stroke-width="2" stroke-dasharray="13.6 13.3"/>
<line x1="88.4" y1="116.8" x2="131.5" y2="116.8" stroke="#00ff00" stroke-width="2" stroke-dasharray="3.1 2.4 7.2 2.3"/>
<line x1="85.1" y1="140.5" x2="131.3" y2="140.5" stroke="#996633" stroke-width="2.2" stroke-dasharray="4.9 3.36"/>
</g>
<text transform="translate(139.00,50.30) scale(1.02,1.1)" font-size="10"><tspan font-style="italic">β</tspan>=1</text>
<text transform="translate(140.70,74.10) scale(1.02,1.1)" font-size="10"><tspan font-style="italic">β</tspan>=25</text>
<text transform="translate(140.70,97.80) scale(1.02,1.1)" font-size="10"><tspan font-style="italic">β</tspan>=50</text>
<text transform="translate(140.70,121.40) scale(1.02,1.1)" font-size="10"><tspan font-style="italic">β</tspan>=75</text>
<text transform="translate(137.90,145.10) scale(1.02,1.1)" font-size="10"><tspan font-style="italic">β</tspan>=100</text>
</svg></body></html>
